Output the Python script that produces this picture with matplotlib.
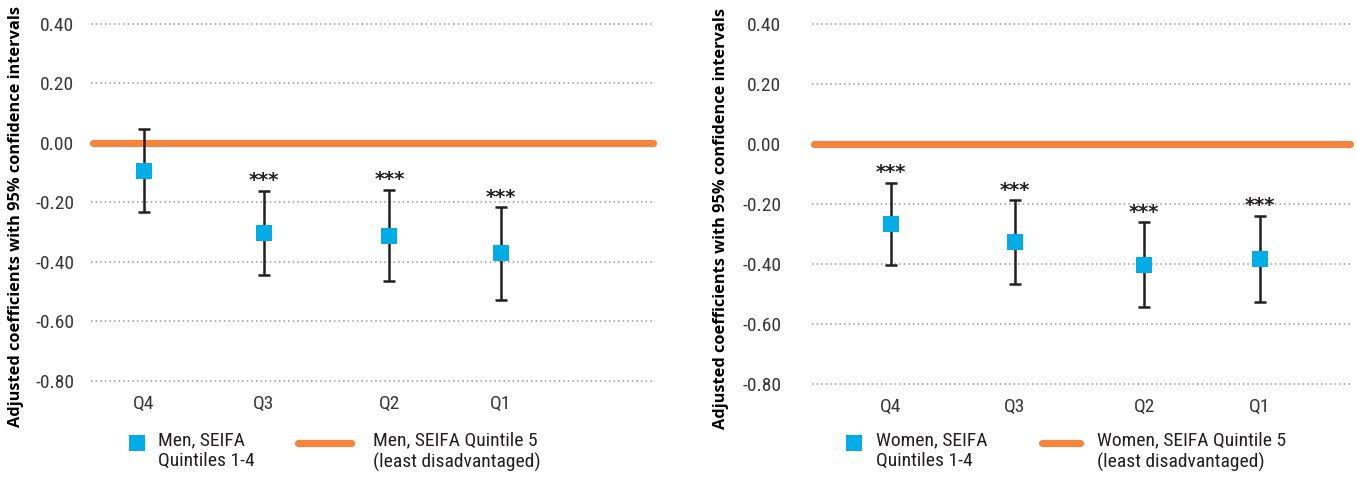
import matplotlib
matplotlib.use("Agg")
import matplotlib.pyplot as plt
from matplotlib.lines import Line2D
from matplotlib import font_manager

# ---- data -------------------------------------------------------------
categories = ["Q4", "Q3", "Q2", "Q1"]

men_coef = [-0.093, -0.303, -0.312, -0.372]
men_lower = [-0.233, -0.446, -0.466, -0.528]
men_upper = [0.048, -0.161, -0.158, -0.217]
men_sig = ["", "***", "***", "***"]

women_coef = [-0.267, -0.327, -0.403, -0.382]
women_lower = [-0.404, -0.467, -0.542, -0.527]
women_upper = [-0.129, -0.187, -0.261, -0.238]
women_sig = ["***", "***", "***", "***"]

reference_value = 0.0          # SEIFA Quintile 5 (least disadvantaged)
y_ticks = [0.40, 0.20, 0.00, -0.20, -0.40, -0.60, -0.80]

men_labels = ["Men, SEIFA\nQuintiles 1-4", "Men, SEIFA Quintile 5\n(least disadvantaged)"]
women_labels = ["Women, SEIFA\nQuintiles 1-4", "Women, SEIFA Quintile 5\n(least disadvantaged)"]
y_title = "Adjusted coefficients with 95% confidence intervals"

# ---- styling ----------------------------------------------------------
BLUE = "#00ADE6"
ORANGE = "#F5843C"
INK = "#231F20"
GRID = "#9a9a9a"

available = {f.name for f in font_manager.fontManager.ttflist}
narrow = [f for f in ["Roboto Condensed", "Liberation Sans Narrow", "DejaVu Sans"] if f in available]
NARROW = narrow[0]
STRETCH = "normal" if NARROW != "DejaVu Sans" else "condensed"
bold_fams = [f for f in ["Open Sans", "Noto Sans", "DejaVu Sans"] if f in available]
BOLD = bold_fams[0]

W, H = 1357, 479
fig = plt.figure(figsize=(W / 100, H / 100), dpi=100)


def px_axes(x0, x1, ytop, ybot):
    return fig.add_axes([x0 / W, 1 - ybot / H, (x1 - x0) / W, (ybot - ytop) / H])


def draw_panel(ax, xpos, coef, lower, upper, sig, tick_pad, label_x):
    ax.set_xlim(0, 1)
    ax.set_ylim(-0.80, 0.40)
    for s in ax.spines.values():
        s.set_visible(False)
    ax.set_yticks(y_ticks)
    ax.set_yticklabels([f"{v:.2f}" for v in y_ticks], fontfamily=NARROW,
                       fontstretch=STRETCH, fontsize=14, color="#383838")
    ax.tick_params(axis="y", length=0, pad=tick_pad)
    ax.set_xticks(xpos)
    ax.set_xticklabels(categories, fontfamily=NARROW, fontstretch=STRETCH,
                       fontsize=14, color="#383838")
    ax.tick_params(axis="x", length=0, pad=10)

    for v in y_ticks:
        ax.axhline(v, color=GRID, lw=1.1, ls=(0, (1, 2)), zorder=1, clip_on=False)

    ax.plot([0.004, 0.996], [reference_value, reference_value], color=ORANGE, lw=5.2,
            solid_capstyle="round", zorder=2, clip_on=False)

    yerr = [[c - lo for c, lo in zip(coef, lower)], [hi - c for c, hi in zip(coef, upper)]]
    ax.errorbar(xpos, coef, yerr=yerr, fmt="none", ecolor=INK, elinewidth=1.8,
                capsize=4.6, capthick=1.8, zorder=3, clip_on=False)
    ax.plot(xpos, coef, ls="none", marker="s", ms=11.5, color=BLUE,
            markeredgewidth=0, zorder=4, clip_on=False)

    for x, hi, s in zip(xpos, upper, sig):
        if s:
            ax.annotate(s, (x, hi), xytext=(0, 0.5), textcoords="offset points",
                        ha="center", va="bottom", fontsize=14, fontweight="bold",
                        color=INK, family="DejaVu Sans")

    lab = ax.set_ylabel(y_title, fontsize=11, fontweight="bold", color="black",
                        family=BOLD)
    ax.yaxis.set_label_coords(label_x, 0.46)
    return lab


def draw_legend(sq_x, line_x0, line_x1, text1_x, text2_x, labels):
    y_row = 442.5
    fig.add_artist(Line2D([sq_x / W], [1 - y_row / H], transform=fig.transFigure,
                          marker="s", ms=11.5, color=BLUE, markeredgewidth=0, ls="none"))
    fig.add_artist(Line2D([line_x0 / W, line_x1 / W], [1 - y_row / H, 1 - y_row / H],
                          transform=fig.transFigure, color=ORANGE, lw=5.2,
                          solid_capstyle="round"))
    for tx, lab in zip([text1_x, text2_x], labels):
        fig.text(tx / W, 1 - (y_row - 11) / H, lab, ha="left", va="top",
                 fontfamily=NARROW, fontstretch=STRETCH, fontsize=14,
                 color=INK, linespacing=1.2)


men_x = [0.094, 0.306, 0.529, 0.727]
women_x = [0.146, 0.375, 0.615, 0.829]

ax1 = px_axes(91, 655, 24, 380.7)
lab1 = draw_panel(ax1, men_x, men_coef, men_lower, men_upper, men_sig, 12, -0.118)

ax2 = px_axes(812, 1352, 24, 384.3)
lab2 = draw_panel(ax2, women_x, women_coef, women_lower, women_upper, women_sig, 22, -0.154)

# fit the vertical axis titles to a 420 px run
renderer = fig.canvas.get_renderer()
for lab in (lab1, lab2):
    h = lab.get_window_extent(renderer).height
    lab.set_fontsize(lab.get_fontsize() * 420 / h)

draw_legend(137, 298, 351, 158, 373, men_labels)
draw_legend(854, 1042, 1080, 876, 1097, women_labels)

fig.savefig("out.png", dpi=100)
